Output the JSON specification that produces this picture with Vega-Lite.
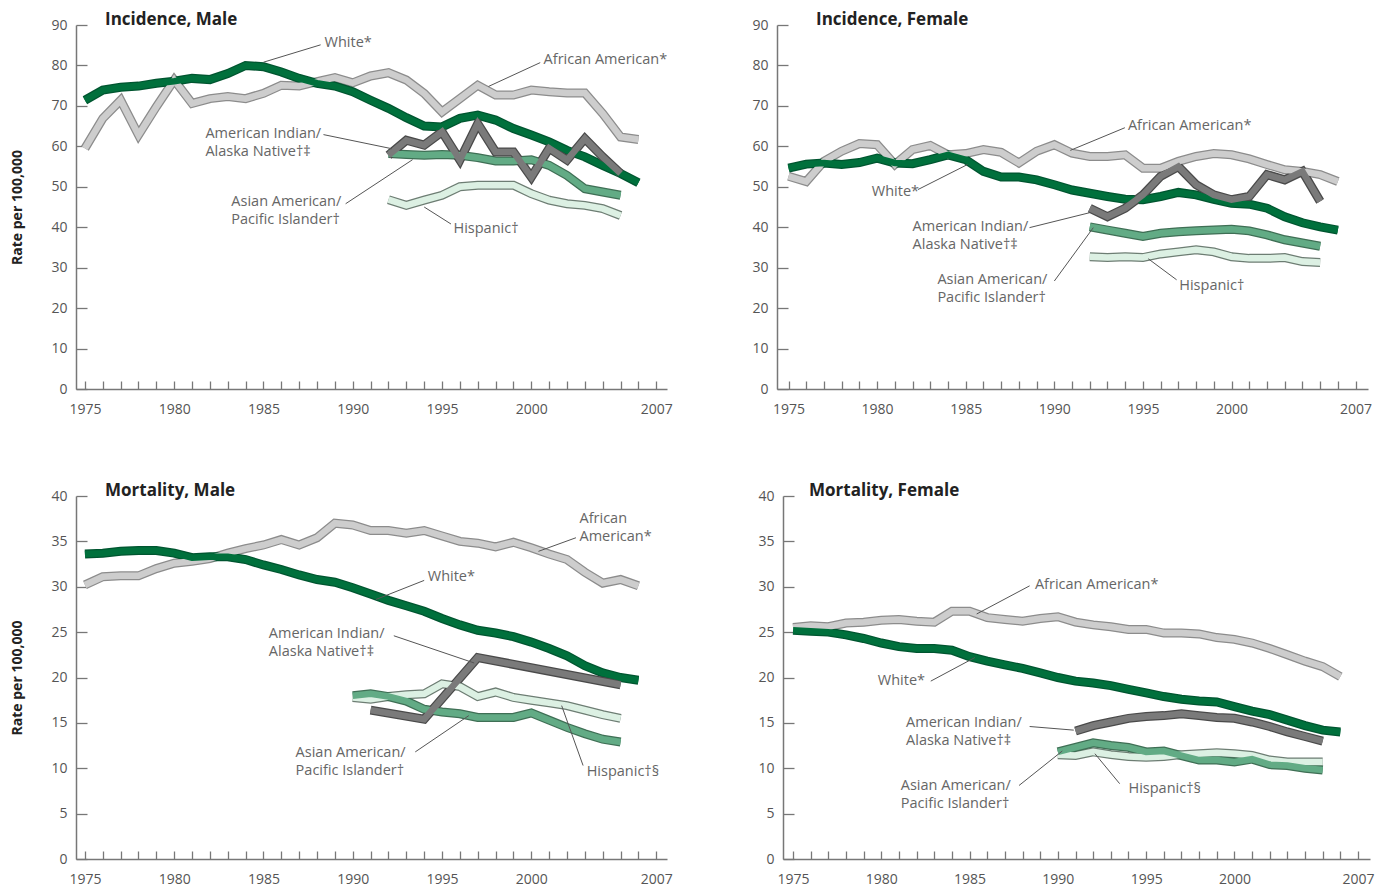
{
  "$schema": "https://vega.github.io/schema/vega-lite/v6.json",
  "padding": {"left": 10, "top": 11, "right": 5, "bottom": 5},
  "background": "white",
  "datasets": {
    "incM": [
      {"race":"Black","year":1975,"rate":59.5},{"race":"Black","year":1976,"rate":66.9},{"race":"Black","year":1977,"rate":71.4},{"race":"Black","year":1978,"rate":62.8},{"race":"Black","year":1979,"rate":69.8},{"race":"Black","year":1980,"rate":76.4},{"race":"Black","year":1981,"rate":70.6},{"race":"Black","year":1982,"rate":71.8},{"race":"Black","year":1983,"rate":72.3},{"race":"Black","year":1984,"rate":71.8},{"race":"Black","year":1985,"rate":73.1},{"race":"Black","year":1986,"rate":75.1},{"race":"Black","year":1987,"rate":74.9},{"race":"Black","year":1988,"rate":76.0},{"race":"Black","year":1989,"rate":77.0},{"race":"Black","year":1990,"rate":75.7},{"race":"Black","year":1991,"rate":77.4},{"race":"Black","year":1992,"rate":78.2},{"race":"Black","year":1993,"rate":76.4},{"race":"Black","year":1994,"rate":73.1},{"race":"Black","year":1995,"rate":68.5},{"race":"Black","year":1996,"rate":71.8},{"race":"Black","year":1997,"rate":75.1},{"race":"Black","year":1998,"rate":72.7},{"race":"Black","year":1999,"rate":72.7},{"race":"Black","year":2000,"rate":73.9},{"race":"Black","year":2001,"rate":73.5},{"race":"Black","year":2002,"rate":73.2},{"race":"Black","year":2003,"rate":73.2},{"race":"Black","year":2004,"rate":68.1},{"race":"Black","year":2005,"rate":62.3},{"race":"Black","year":2006,"rate":61.7},
      {"race":"Hispanic","year":1992,"rate":46.8},{"race":"Hispanic","year":1993,"rate":45.4},{"race":"Hispanic","year":1994,"rate":46.7},{"race":"Hispanic","year":1995,"rate":47.9},{"race":"Hispanic","year":1996,"rate":50.0},{"race":"Hispanic","year":1997,"rate":50.4},{"race":"Hispanic","year":1998,"rate":50.4},{"race":"Hispanic","year":1999,"rate":50.4},{"race":"Hispanic","year":2000,"rate":48.3},{"race":"Hispanic","year":2001,"rate":46.7},{"race":"Hispanic","year":2002,"rate":45.8},{"race":"Hispanic","year":2003,"rate":45.4},{"race":"Hispanic","year":2004,"rate":44.6},{"race":"Hispanic","year":2005,"rate":42.9},
      {"race":"API","year":1992,"rate":58.2},{"race":"API","year":1993,"rate":58.0},{"race":"API","year":1994,"rate":57.8},{"race":"API","year":1995,"rate":58.0},{"race":"API","year":1996,"rate":57.8},{"race":"API","year":1997,"rate":57.2},{"race":"API","year":1998,"rate":56.4},{"race":"API","year":1999,"rate":56.4},{"race":"API","year":2000,"rate":56.7},{"race":"API","year":2001,"rate":55.3},{"race":"API","year":2002,"rate":52.8},{"race":"API","year":2003,"rate":49.5},{"race":"API","year":2004,"rate":48.7},{"race":"API","year":2005,"rate":47.9},
      {"race":"White","year":1975,"rate":71.4},{"race":"White","year":1976,"rate":73.9},{"race":"White","year":1977,"rate":74.6},{"race":"White","year":1978,"rate":74.9},{"race":"White","year":1979,"rate":75.6},{"race":"White","year":1980,"rate":76.1},{"race":"White","year":1981,"rate":76.8},{"race":"White","year":1982,"rate":76.5},{"race":"White","year":1983,"rate":78.0},{"race":"White","year":1984,"rate":80.0},{"race":"White","year":1985,"rate":79.7},{"race":"White","year":1986,"rate":78.4},{"race":"White","year":1987,"rate":76.8},{"race":"White","year":1988,"rate":75.6},{"race":"White","year":1989,"rate":74.9},{"race":"White","year":1990,"rate":73.5},{"race":"White","year":1991,"rate":71.4},{"race":"White","year":1992,"rate":69.4},{"race":"White","year":1993,"rate":67.1},{"race":"White","year":1994,"rate":65.0},{"race":"White","year":1995,"rate":64.8},{"race":"White","year":1996,"rate":66.9},{"race":"White","year":1997,"rate":67.7},{"race":"White","year":1998,"rate":66.5},{"race":"White","year":1999,"rate":64.4},{"race":"White","year":2000,"rate":62.8},{"race":"White","year":2001,"rate":61.1},{"race":"White","year":2002,"rate":59.0},{"race":"White","year":2003,"rate":57.4},{"race":"White","year":2004,"rate":55.3},{"race":"White","year":2005,"rate":53.3},{"race":"White","year":2006,"rate":51.0},
      {"race":"AIAN","year":1992,"rate":57.8},{"race":"AIAN","year":1993,"rate":61.5},{"race":"AIAN","year":1994,"rate":60.3},{"race":"AIAN","year":1995,"rate":63.6},{"race":"AIAN","year":1996,"rate":56.6},{"race":"AIAN","year":1997,"rate":65.6},{"race":"AIAN","year":1998,"rate":58.6},{"race":"AIAN","year":1999,"rate":58.6},{"race":"AIAN","year":2000,"rate":52.4},{"race":"AIAN","year":2001,"rate":59.5},{"race":"AIAN","year":2002,"rate":56.6},{"race":"AIAN","year":2003,"rate":61.9},{"race":"AIAN","year":2004,"rate":57.4},{"race":"AIAN","year":2005,"rate":53.3}
    ],
    "incF": [
      {"race":"Black","year":1975,"rate":52.6},{"race":"Black","year":1976,"rate":51.3},{"race":"Black","year":1977,"rate":56.3},{"race":"Black","year":1978,"rate":58.8},{"race":"Black","year":1979,"rate":60.7},{"race":"Black","year":1980,"rate":60.4},{"race":"Black","year":1981,"rate":55.5},{"race":"Black","year":1982,"rate":59.2},{"race":"Black","year":1983,"rate":60.2},{"race":"Black","year":1984,"rate":57.9},{"race":"Black","year":1985,"rate":58.2},{"race":"Black","year":1986,"rate":59.2},{"race":"Black","year":1987,"rate":58.5},{"race":"Black","year":1988,"rate":55.9},{"race":"Black","year":1989,"rate":58.8},{"race":"Black","year":1990,"rate":60.4},{"race":"Black","year":1991,"rate":58.3},{"race":"Black","year":1992,"rate":57.5},{"race":"Black","year":1993,"rate":57.5},{"race":"Black","year":1994,"rate":57.9},{"race":"Black","year":1995,"rate":54.6},{"race":"Black","year":1996,"rate":54.6},{"race":"Black","year":1997,"rate":56.3},{"race":"Black","year":1998,"rate":57.5},{"race":"Black","year":1999,"rate":58.2},{"race":"Black","year":2000,"rate":57.9},{"race":"Black","year":2001,"rate":56.9},{"race":"Black","year":2002,"rate":55.5},{"race":"Black","year":2003,"rate":54.2},{"race":"Black","year":2004,"rate":53.8},{"race":"Black","year":2005,"rate":53.0},{"race":"Black","year":2006,"rate":51.3},
      {"race":"Hispanic","year":1992,"rate":32.7},{"race":"Hispanic","year":1993,"rate":32.5},{"race":"Hispanic","year":1994,"rate":32.7},{"race":"Hispanic","year":1995,"rate":32.5},{"race":"Hispanic","year":1996,"rate":33.4},{"race":"Hispanic","year":1997,"rate":33.9},{"race":"Hispanic","year":1998,"rate":34.4},{"race":"Hispanic","year":1999,"rate":33.9},{"race":"Hispanic","year":2000,"rate":32.7},{"race":"Hispanic","year":2001,"rate":32.3},{"race":"Hispanic","year":2002,"rate":32.3},{"race":"Hispanic","year":2003,"rate":32.5},{"race":"Hispanic","year":2004,"rate":31.5},{"race":"Hispanic","year":2005,"rate":31.3},
      {"race":"API","year":1992,"rate":40.1},{"race":"API","year":1993,"rate":39.3},{"race":"API","year":1994,"rate":38.5},{"race":"API","year":1995,"rate":37.7},{"race":"API","year":1996,"rate":38.5},{"race":"API","year":1997,"rate":38.9},{"race":"API","year":1998,"rate":39.1},{"race":"API","year":1999,"rate":39.3},{"race":"API","year":2000,"rate":39.5},{"race":"API","year":2001,"rate":39.1},{"race":"API","year":2002,"rate":38.1},{"race":"API","year":2003,"rate":36.9},{"race":"API","year":2004,"rate":36.1},{"race":"API","year":2005,"rate":35.3},
      {"race":"White","year":1975,"rate":54.6},{"race":"White","year":1976,"rate":55.6},{"race":"White","year":1977,"rate":55.9},{"race":"White","year":1978,"rate":55.5},{"race":"White","year":1979,"rate":56.0},{"race":"White","year":1980,"rate":57.1},{"race":"White","year":1981,"rate":55.9},{"race":"White","year":1982,"rate":55.7},{"race":"White","year":1983,"rate":56.7},{"race":"White","year":1984,"rate":57.9},{"race":"White","year":1985,"rate":56.7},{"race":"White","year":1986,"rate":53.8},{"race":"White","year":1987,"rate":52.4},{"race":"White","year":1988,"rate":52.4},{"race":"White","year":1989,"rate":51.7},{"race":"White","year":1990,"rate":50.5},{"race":"White","year":1991,"rate":49.2},{"race":"White","year":1992,"rate":48.4},{"race":"White","year":1993,"rate":47.6},{"race":"White","year":1994,"rate":46.9},{"race":"White","year":1995,"rate":46.8},{"race":"White","year":1996,"rate":47.6},{"race":"White","year":1997,"rate":48.6},{"race":"White","year":1998,"rate":48.0},{"race":"White","year":1999,"rate":46.9},{"race":"White","year":2000,"rate":45.9},{"race":"White","year":2001,"rate":45.7},{"race":"White","year":2002,"rate":44.7},{"race":"White","year":2003,"rate":42.6},{"race":"White","year":2004,"rate":41.1},{"race":"White","year":2005,"rate":40.1},{"race":"White","year":2006,"rate":39.3},
      {"race":"AIAN","year":1992,"rate":44.7},{"race":"AIAN","year":1993,"rate":42.6},{"race":"AIAN","year":1994,"rate":44.7},{"race":"AIAN","year":1995,"rate":48.0},{"race":"AIAN","year":1996,"rate":52.6},{"race":"AIAN","year":1997,"rate":55.0},{"race":"AIAN","year":1998,"rate":50.5},{"race":"AIAN","year":1999,"rate":48.0},{"race":"AIAN","year":2000,"rate":46.8},{"race":"AIAN","year":2001,"rate":47.6},{"race":"AIAN","year":2002,"rate":53.0},{"race":"AIAN","year":2003,"rate":51.7},{"race":"AIAN","year":2004,"rate":53.8},{"race":"AIAN","year":2005,"rate":46.4}
    ],
    "morM": [
      {"race":"Black","year":1975,"rate":30.2},{"race":"Black","year":1976,"rate":31.1},{"race":"Black","year":1977,"rate":31.2},{"race":"Black","year":1978,"rate":31.2},{"race":"Black","year":1979,"rate":32.0},{"race":"Black","year":1980,"rate":32.6},{"race":"Black","year":1981,"rate":32.8},{"race":"Black","year":1982,"rate":33.1},{"race":"Black","year":1983,"rate":33.7},{"race":"Black","year":1984,"rate":34.2},{"race":"Black","year":1985,"rate":34.6},{"race":"Black","year":1986,"rate":35.2},{"race":"Black","year":1987,"rate":34.6},{"race":"Black","year":1988,"rate":35.4},{"race":"Black","year":1989,"rate":37.0},{"race":"Black","year":1990,"rate":36.8},{"race":"Black","year":1991,"rate":36.2},{"race":"Black","year":1992,"rate":36.2},{"race":"Black","year":1993,"rate":35.9},{"race":"Black","year":1994,"rate":36.2},{"race":"Black","year":1995,"rate":35.6},{"race":"Black","year":1996,"rate":35.0},{"race":"Black","year":1997,"rate":34.8},{"race":"Black","year":1998,"rate":34.4},{"race":"Black","year":1999,"rate":34.9},{"race":"Black","year":2000,"rate":34.3},{"race":"Black","year":2001,"rate":33.6},{"race":"Black","year":2002,"rate":33.0},{"race":"Black","year":2003,"rate":31.6},{"race":"Black","year":2004,"rate":30.4},{"race":"Black","year":2005,"rate":30.8},{"race":"Black","year":2006,"rate":30.1},
      {"race":"Hispanic","year":1990,"rate":17.8},{"race":"Hispanic","year":1991,"rate":17.6},{"race":"Hispanic","year":1992,"rate":17.9},{"race":"Hispanic","year":1993,"rate":18.1},{"race":"Hispanic","year":1994,"rate":18.2},{"race":"Hispanic","year":1995,"rate":19.3},{"race":"Hispanic","year":1996,"rate":19.0},{"race":"Hispanic","year":1997,"rate":17.9},{"race":"Hispanic","year":1998,"rate":18.4},{"race":"Hispanic","year":1999,"rate":17.8},{"race":"Hispanic","year":2000,"rate":17.5},{"race":"Hispanic","year":2001,"rate":17.2},{"race":"Hispanic","year":2002,"rate":16.9},{"race":"Hispanic","year":2003,"rate":16.4},{"race":"Hispanic","year":2004,"rate":15.9},{"race":"Hispanic","year":2005,"rate":15.5},
      {"race":"API","year":1990,"rate":18.0},{"race":"API","year":1991,"rate":18.2},{"race":"API","year":1992,"rate":17.9},{"race":"API","year":1993,"rate":17.4},{"race":"API","year":1994,"rate":16.5},{"race":"API","year":1995,"rate":16.2},{"race":"API","year":1996,"rate":16.0},{"race":"API","year":1997,"rate":15.6},{"race":"API","year":1998,"rate":15.6},{"race":"API","year":1999,"rate":15.6},{"race":"API","year":2000,"rate":16.1},{"race":"API","year":2001,"rate":15.3},{"race":"API","year":2002,"rate":14.5},{"race":"API","year":2003,"rate":13.8},{"race":"API","year":2004,"rate":13.2},{"race":"API","year":2005,"rate":12.9},
      {"race":"White","year":1975,"rate":33.6},{"race":"White","year":1976,"rate":33.7},{"race":"White","year":1977,"rate":33.9},{"race":"White","year":1978,"rate":34.0},{"race":"White","year":1979,"rate":34.0},{"race":"White","year":1980,"rate":33.7},{"race":"White","year":1981,"rate":33.2},{"race":"White","year":1982,"rate":33.3},{"race":"White","year":1983,"rate":33.3},{"race":"White","year":1984,"rate":33.0},{"race":"White","year":1985,"rate":32.4},{"race":"White","year":1986,"rate":31.9},{"race":"White","year":1987,"rate":31.3},{"race":"White","year":1988,"rate":30.8},{"race":"White","year":1989,"rate":30.5},{"race":"White","year":1990,"rate":29.9},{"race":"White","year":1991,"rate":29.2},{"race":"White","year":1992,"rate":28.5},{"race":"White","year":1993,"rate":27.9},{"race":"White","year":1994,"rate":27.3},{"race":"White","year":1995,"rate":26.5},{"race":"White","year":1996,"rate":25.8},{"race":"White","year":1997,"rate":25.2},{"race":"White","year":1998,"rate":24.9},{"race":"White","year":1999,"rate":24.5},{"race":"White","year":2000,"rate":23.9},{"race":"White","year":2001,"rate":23.2},{"race":"White","year":2002,"rate":22.4},{"race":"White","year":2003,"rate":21.3},{"race":"White","year":2004,"rate":20.5},{"race":"White","year":2005,"rate":20.0},{"race":"White","year":2006,"rate":19.7},
      {"race":"AIAN","year":1991,"rate":16.4},{"race":"AIAN","year":1994,"rate":15.4},{"race":"AIAN","year":1997,"rate":22.2},{"race":"AIAN","year":2005,"rate":19.2}
    ],
    "morF": [
      {"race":"Black","year":1975,"rate":25.5},{"race":"Black","year":1976,"rate":25.7},{"race":"Black","year":1977,"rate":25.6},{"race":"Black","year":1978,"rate":26.0},{"race":"Black","year":1979,"rate":26.1},{"race":"Black","year":1980,"rate":26.3},{"race":"Black","year":1981,"rate":26.4},{"race":"Black","year":1982,"rate":26.2},{"race":"Black","year":1983,"rate":26.1},{"race":"Black","year":1984,"rate":27.3},{"race":"Black","year":1985,"rate":27.3},{"race":"Black","year":1986,"rate":26.6},{"race":"Black","year":1987,"rate":26.4},{"race":"Black","year":1988,"rate":26.2},{"race":"Black","year":1989,"rate":26.5},{"race":"Black","year":1990,"rate":26.7},{"race":"Black","year":1991,"rate":26.1},{"race":"Black","year":1992,"rate":25.8},{"race":"Black","year":1993,"rate":25.6},{"race":"Black","year":1994,"rate":25.3},{"race":"Black","year":1995,"rate":25.3},{"race":"Black","year":1996,"rate":24.9},{"race":"Black","year":1997,"rate":24.9},{"race":"Black","year":1998,"rate":24.8},{"race":"Black","year":1999,"rate":24.4},{"race":"Black","year":2000,"rate":24.2},{"race":"Black","year":2001,"rate":23.8},{"race":"Black","year":2002,"rate":23.2},{"race":"Black","year":2003,"rate":22.5},{"race":"Black","year":2004,"rate":21.8},{"race":"Black","year":2005,"rate":21.2},{"race":"Black","year":2006,"rate":20.1},
      {"race":"Hispanic","year":1990,"rate":11.5},{"race":"Hispanic","year":1991,"rate":11.4},{"race":"Hispanic","year":1992,"rate":11.8},{"race":"Hispanic","year":1993,"rate":11.5},{"race":"Hispanic","year":1994,"rate":11.3},{"race":"Hispanic","year":1995,"rate":11.2},{"race":"Hispanic","year":1996,"rate":11.3},{"race":"Hispanic","year":1997,"rate":11.5},{"race":"Hispanic","year":1998,"rate":11.6},{"race":"Hispanic","year":1999,"rate":11.7},{"race":"Hispanic","year":2000,"rate":11.6},{"race":"Hispanic","year":2001,"rate":11.4},{"race":"Hispanic","year":2002,"rate":10.9},{"race":"Hispanic","year":2003,"rate":10.7},{"race":"Hispanic","year":2004,"rate":10.7},{"race":"Hispanic","year":2005,"rate":10.7},
      {"race":"API","year":1990,"rate":11.8},{"race":"API","year":1991,"rate":12.3},{"race":"API","year":1992,"rate":12.8},{"race":"API","year":1993,"rate":12.5},{"race":"API","year":1994,"rate":12.3},{"race":"API","year":1995,"rate":11.8},{"race":"API","year":1996,"rate":11.9},{"race":"API","year":1997,"rate":11.4},{"race":"API","year":1998,"rate":10.9},{"race":"API","year":1999,"rate":10.9},{"race":"API","year":2000,"rate":10.7},{"race":"API","year":2001,"rate":11.0},{"race":"API","year":2002,"rate":10.4},{"race":"API","year":2003,"rate":10.3},{"race":"API","year":2004,"rate":10.0},{"race":"API","year":2005,"rate":9.8},
      {"race":"White","year":1975,"rate":25.2},{"race":"White","year":1976,"rate":25.1},{"race":"White","year":1977,"rate":25.0},{"race":"White","year":1978,"rate":24.7},{"race":"White","year":1979,"rate":24.3},{"race":"White","year":1980,"rate":23.8},{"race":"White","year":1981,"rate":23.4},{"race":"White","year":1982,"rate":23.2},{"race":"White","year":1983,"rate":23.2},{"race":"White","year":1984,"rate":23.0},{"race":"White","year":1985,"rate":22.3},{"race":"White","year":1986,"rate":21.8},{"race":"White","year":1987,"rate":21.4},{"race":"White","year":1988,"rate":21.0},{"race":"White","year":1989,"rate":20.5},{"race":"White","year":1990,"rate":20.0},{"race":"White","year":1991,"rate":19.6},{"race":"White","year":1992,"rate":19.4},{"race":"White","year":1993,"rate":19.1},{"race":"White","year":1994,"rate":18.7},{"race":"White","year":1995,"rate":18.3},{"race":"White","year":1996,"rate":17.9},{"race":"White","year":1997,"rate":17.6},{"race":"White","year":1998,"rate":17.4},{"race":"White","year":1999,"rate":17.3},{"race":"White","year":2000,"rate":16.8},{"race":"White","year":2001,"rate":16.3},{"race":"White","year":2002,"rate":15.9},{"race":"White","year":2003,"rate":15.3},{"race":"White","year":2004,"rate":14.7},{"race":"White","year":2005,"rate":14.2},{"race":"White","year":2006,"rate":14.0},
      {"race":"AIAN","year":1991,"rate":14.1},{"race":"AIAN","year":1992,"rate":14.7},{"race":"AIAN","year":1993,"rate":15.1},{"race":"AIAN","year":1994,"rate":15.5},{"race":"AIAN","year":1995,"rate":15.7},{"race":"AIAN","year":1996,"rate":15.8},{"race":"AIAN","year":1997,"rate":16.0},{"race":"AIAN","year":1998,"rate":15.8},{"race":"AIAN","year":1999,"rate":15.6},{"race":"AIAN","year":2000,"rate":15.5},{"race":"AIAN","year":2001,"rate":15.1},{"race":"AIAN","year":2002,"rate":14.6},{"race":"AIAN","year":2003,"rate":14.0},{"race":"AIAN","year":2004,"rate":13.5},{"race":"AIAN","year":2005,"rate":13.0}
    ],
    "notes": [
      {"panel":"incM","text":"White*","year":1988.42,"rate":84.65},
      {"panel":"incM","text":"African American*","year":2000.69,"rate":80.4},
      {"panel":"incM","text":"American Indian/\nAlaska Native†‡","year":1981.75,"rate":62.1},
      {"panel":"incM","text":"Asian American/\nPacific Islander†","year":1983.2,"rate":45.3},
      {"panel":"incM","text":"Hispanic†","year":1995.64,"rate":38.6},
      {"panel":"incF","text":"African American*","year":1994.15,"rate":64.1},
      {"panel":"incF","text":"White*","year":1979.7,"rate":47.8},
      {"panel":"incF","text":"American Indian/\nAlaska Native†‡","year":1982.0,"rate":39.1},
      {"panel":"incF","text":"Asian American/\nPacific Islander†","year":1983.4,"rate":26.0},
      {"panel":"incF","text":"Hispanic†","year":1997.05,"rate":24.5},
      {"panel":"morM","text":"African\nAmerican*","year":2002.7,"rate":37.0},
      {"panel":"morM","text":"White*","year":1994.2,"rate":30.6},
      {"panel":"morM","text":"American Indian/\nAlaska Native†‡","year":1985.3,"rate":24.3},
      {"panel":"morM","text":"Asian American/\nPacific Islander†","year":1986.8,"rate":11.2},
      {"panel":"morM","text":"Hispanic†§","year":2003.1,"rate":9.2},
      {"panel":"morF","text":"African American*","year":1988.7,"rate":29.7},
      {"panel":"morF","text":"White*","year":1979.8,"rate":19.2},
      {"panel":"morF","text":"American Indian/\nAlaska Native†‡","year":1981.4,"rate":14.6},
      {"panel":"morF","text":"Asian American/\nPacific Islander†","year":1981.1,"rate":7.6},
      {"panel":"morF","text":"Hispanic†§","year":1994.0,"rate":7.3}
    ],
    "leaders": [
      {"panel":"incM","year":1988.2,"rate":85.1,"year2":1985.0,"rate2":80.8},
      {"panel":"incM","year":2000.5,"rate":80.7,"year2":1997.6,"rate2":74.8},
      {"panel":"incM","year":1988.36,"rate":62.9,"year2":1992.2,"rate2":59.4},
      {"panel":"incM","year":1989.6,"rate":45.8,"year2":1993.35,"rate2":56.7},
      {"panel":"incM","year":1995.5,"rate":40.8,"year2":1994.0,"rate2":45.0},
      {"panel":"incF","year":1993.98,"rate":64.6,"year2":1990.9,"rate2":59.0},
      {"panel":"incF","year":1982.3,"rate":49.3,"year2":1985.1,"rate2":55.5},
      {"panel":"incF","year":1988.6,"rate":39.9,"year2":1992.0,"rate2":43.6},
      {"panel":"incF","year":1990.0,"rate":26.7,"year2":1992.2,"rate2":39.9},
      {"panel":"incF","year":1996.9,"rate":27.0,"year2":1995.3,"rate2":32.2},
      {"panel":"morM","year":2002.5,"rate":35.4,"year2":2000.4,"rate2":33.9},
      {"panel":"morM","year":1994.0,"rate":30.7,"year2":1991.3,"rate2":28.6},
      {"panel":"morM","year":1992.3,"rate":24.6,"year2":1996.8,"rate2":21.6},
      {"panel":"morM","year":1993.5,"rate":11.8,"year2":1996.5,"rate2":15.8},
      {"panel":"morM","year":2002.9,"rate":10.3,"year2":2001.7,"rate2":16.9},
      {"panel":"morF","year":1988.4,"rate":30.1,"year2":1985.4,"rate2":27.0},
      {"panel":"morF","year":1982.8,"rate":19.6,"year2":1985.3,"rate2":22.2},
      {"panel":"morF","year":1988.4,"rate":14.6,"year2":1990.9,"rate2":14.2},
      {"panel":"morF","year":1987.8,"rate":8.1,"year2":1990.25,"rate2":11.9},
      {"panel":"morF","year":1993.5,"rate":8.3,"year2":1992.1,"rate2":11.6}
    ]
  },
  "vconcat": [
    {"hconcat": [
      {
        "width": 591, "height": 364,
        "title": {"text": "Incidence, Male", "dx": 29},
        "layer": [
          {"data": {"name": "incM"}, "mark": {"type": "line", "strokeWidth": 9}, "encoding": {
            "x": {"field": "year", "type": "quantitative", "scale": {"domain": [1974.5, 2007.6], "nice": false, "zero": false}, "axis": {"values": [1975,1976,1977,1978,1979,1980,1981,1982,1983,1984,1985,1986,1987,1988,1989,1990,1991,1992,1993,1994,1995,1996,1997,1998,1999,2000,2001,2002,2003,2004,2005,2006,2007], "tickCount": 100, "title": null, "format": "d", "labelOverlap": false, "labelExpr": "(datum.value % 5 == 0 && datum.value <= 2000) || datum.value == 2007 ? datum.label : ''"}},
            "y": {"field": "rate", "type": "quantitative", "scale": {"domain": [0, 90], "nice": false}, "axis": {"values": [0,10,20,30,40,50,60,70,80,90], "labelOverlap": false, "title": "Rate per 100,000"}},
            "stroke": {"field": "race", "type": "nominal", "scale": {"domain": ["Black","Hispanic","API","White","AIAN"], "range": ["#8c8c8c","#6d7d73","#3f6f55","#005530","#4a4a4a"]}, "legend": null}
          }},
          {"data": {"name": "incM"}, "mark": {"type": "line", "strokeWidth": 6.5}, "encoding": {
            "x": {"field": "year", "type": "quantitative"},
            "y": {"field": "rate", "type": "quantitative"},
            "color": {"field": "race", "type": "nominal", "scale": {"domain": ["Black","Hispanic","API","White","AIAN"], "range": ["#cdcdcd","#dcf0e3","#62ab85","#00703c","#7a7a7a"]}, "legend": null}
          }},
          {"data": {"name": "leaders"}, "transform": [{"filter": "datum.panel == 'incM'"}], "mark": {"type": "rule", "color": "#555", "strokeWidth": 1}, "encoding": {
            "x": {"field": "year", "type": "quantitative"}, "y": {"field": "rate", "type": "quantitative"},
            "x2": {"field": "year2"}, "y2": {"field": "rate2"}
          }},
          {"data": {"name": "notes"}, "transform": [{"filter": "datum.panel == 'incM'"}], "mark": {"type": "text", "align": "left", "baseline": "alphabetic", "lineBreak": "\n", "lineHeight": 18, "fontSize": 14.5, "color": "#666", "font": "Open Sans"}, "encoding": {
            "x": {"field": "year", "type": "quantitative"}, "y": {"field": "rate", "type": "quantitative"}, "text": {"field": "text"}
          }}
        ]
      },
      {
        "width": 591, "height": 364,
        "title": {"text": "Incidence, Female", "dx": 39},
        "layer": [
          {"data": {"name": "incF"}, "mark": {"type": "line", "strokeWidth": 9}, "encoding": {
            "x": {"field": "year", "type": "quantitative", "scale": {"domain": [1974.35, 2007.7], "nice": false, "zero": false}, "axis": {"values": [1975,1976,1977,1978,1979,1980,1981,1982,1983,1984,1985,1986,1987,1988,1989,1990,1991,1992,1993,1994,1995,1996,1997,1998,1999,2000,2001,2002,2003,2004,2005,2006,2007], "tickCount": 100, "title": null, "format": "d", "labelOverlap": false, "labelExpr": "(datum.value % 5 == 0 && datum.value <= 2000) || datum.value == 2007 ? datum.label : ''"}},
            "y": {"field": "rate", "type": "quantitative", "scale": {"domain": [0, 90], "nice": false}, "axis": {"values": [0,10,20,30,40,50,60,70,80,90], "labelOverlap": false, "title": null}},
            "stroke": {"field": "race", "type": "nominal", "scale": {"domain": ["Black","Hispanic","API","White","AIAN"], "range": ["#8c8c8c","#6d7d73","#3f6f55","#005530","#4a4a4a"]}, "legend": null}
          }},
          {"data": {"name": "incF"}, "mark": {"type": "line", "strokeWidth": 6.5}, "encoding": {
            "x": {"field": "year", "type": "quantitative"},
            "y": {"field": "rate", "type": "quantitative"},
            "color": {"field": "race", "type": "nominal", "scale": {"domain": ["Black","Hispanic","API","White","AIAN"], "range": ["#cdcdcd","#dcf0e3","#62ab85","#00703c","#7a7a7a"]}, "legend": null}
          }},
          {"data": {"name": "leaders"}, "transform": [{"filter": "datum.panel == 'incF'"}], "mark": {"type": "rule", "color": "#555", "strokeWidth": 1}, "encoding": {
            "x": {"field": "year", "type": "quantitative"}, "y": {"field": "rate", "type": "quantitative"},
            "x2": {"field": "year2"}, "y2": {"field": "rate2"}
          }},
          {"data": {"name": "notes"}, "transform": [{"filter": "datum.panel == 'incF'"}], "mark": {"type": "text", "align": "left", "baseline": "alphabetic", "lineBreak": "\n", "lineHeight": 18, "fontSize": 14.5, "color": "#666", "font": "Open Sans"}, "encoding": {
            "x": {"field": "year", "type": "quantitative"}, "y": {"field": "rate", "type": "quantitative"}, "text": {"field": "text"}
          }}
        ]
      }
    ], "spacing": 78},
    {"hconcat": [
      {
        "width": 591, "height": 363,
        "title": {"text": "Mortality, Male", "dx": 29},
        "layer": [
          {"data": {"name": "morM"}, "mark": {"type": "line", "strokeWidth": 9}, "encoding": {
            "x": {"field": "year", "type": "quantitative", "scale": {"domain": [1974.5, 2007.6], "nice": false, "zero": false}, "axis": {"values": [1975,1976,1977,1978,1979,1980,1981,1982,1983,1984,1985,1986,1987,1988,1989,1990,1991,1992,1993,1994,1995,1996,1997,1998,1999,2000,2001,2002,2003,2004,2005,2006,2007], "tickCount": 100, "title": null, "format": "d", "labelOverlap": false, "labelExpr": "(datum.value % 5 == 0 && datum.value <= 2000) || datum.value == 2007 ? datum.label : ''"}},
            "y": {"field": "rate", "type": "quantitative", "scale": {"domain": [0, 40], "nice": false}, "axis": {"values": [0,5,10,15,20,25,30,35,40], "labelOverlap": false, "title": "Rate per 100,000"}},
            "stroke": {"field": "race", "type": "nominal", "scale": {"domain": ["Black","Hispanic","API","White","AIAN"], "range": ["#8c8c8c","#6d7d73","#3f6f55","#005530","#4a4a4a"]}, "legend": null}
          }},
          {"data": {"name": "morM"}, "mark": {"type": "line", "strokeWidth": 6.5}, "encoding": {
            "x": {"field": "year", "type": "quantitative"},
            "y": {"field": "rate", "type": "quantitative"},
            "color": {"field": "race", "type": "nominal", "scale": {"domain": ["Black","Hispanic","API","White","AIAN"], "range": ["#cdcdcd","#dcf0e3","#62ab85","#00703c","#7a7a7a"]}, "legend": null}
          }},
          {"data": {"name": "leaders"}, "transform": [{"filter": "datum.panel == 'morM'"}], "mark": {"type": "rule", "color": "#555", "strokeWidth": 1}, "encoding": {
            "x": {"field": "year", "type": "quantitative"}, "y": {"field": "rate", "type": "quantitative"},
            "x2": {"field": "year2"}, "y2": {"field": "rate2"}
          }},
          {"data": {"name": "notes"}, "transform": [{"filter": "datum.panel == 'morM'"}], "mark": {"type": "text", "align": "left", "baseline": "alphabetic", "lineBreak": "\n", "lineHeight": 18, "fontSize": 14.5, "color": "#666", "font": "Open Sans"}, "encoding": {
            "x": {"field": "year", "type": "quantitative"}, "y": {"field": "rate", "type": "quantitative"}, "text": {"field": "text"}
          }}
        ]
      },
      {
        "width": 587, "height": 363,
        "title": {"text": "Mortality, Female", "dx": 26},
        "layer": [
          {"data": {"name": "morF"}, "mark": {"type": "line", "strokeWidth": 9}, "encoding": {
            "x": {"field": "year", "type": "quantitative", "scale": {"domain": [1974.43, 2007.68], "nice": false, "zero": false}, "axis": {"values": [1975,1976,1977,1978,1979,1980,1981,1982,1983,1984,1985,1986,1987,1988,1989,1990,1991,1992,1993,1994,1995,1996,1997,1998,1999,2000,2001,2002,2003,2004,2005,2006,2007], "tickCount": 100, "title": null, "format": "d", "labelOverlap": false, "labelExpr": "(datum.value % 5 == 0 && datum.value <= 2000) || datum.value == 2007 ? datum.label : ''"}},
            "y": {"field": "rate", "type": "quantitative", "scale": {"domain": [0, 40], "nice": false}, "axis": {"values": [0,5,10,15,20,25,30,35,40], "labelOverlap": false, "title": null}},
            "stroke": {"field": "race", "type": "nominal", "scale": {"domain": ["Black","Hispanic","API","White","AIAN"], "range": ["#8c8c8c","#6d7d73","#3f6f55","#005530","#4a4a4a"]}, "legend": null}
          }},
          {"data": {"name": "morF"}, "mark": {"type": "line", "strokeWidth": 6.5}, "encoding": {
            "x": {"field": "year", "type": "quantitative"},
            "y": {"field": "rate", "type": "quantitative"},
            "color": {"field": "race", "type": "nominal", "scale": {"domain": ["Black","Hispanic","API","White","AIAN"], "range": ["#cdcdcd","#dcf0e3","#62ab85","#00703c","#7a7a7a"]}, "legend": null}
          }},
          {"data": {"name": "leaders"}, "transform": [{"filter": "datum.panel == 'morF'"}], "mark": {"type": "rule", "color": "#555", "strokeWidth": 1}, "encoding": {
            "x": {"field": "year", "type": "quantitative"}, "y": {"field": "rate", "type": "quantitative"},
            "x2": {"field": "year2"}, "y2": {"field": "rate2"}
          }},
          {"data": {"name": "notes"}, "transform": [{"filter": "datum.panel == 'morF'"}], "mark": {"type": "text", "align": "left", "baseline": "alphabetic", "lineBreak": "\n", "lineHeight": 18, "fontSize": 14.5, "color": "#666", "font": "Open Sans"}, "encoding": {
            "x": {"field": "year", "type": "quantitative"}, "y": {"field": "rate", "type": "quantitative"}, "text": {"field": "text"}
          }}
        ]
      }
    ], "spacing": 84}
  ],
  "spacing": 66,
  "config": {
    "view": {"stroke": null},
    "font": "Open Sans",
    "axis": {"grid": false, "domainColor": "#777", "domainWidth": 1.5, "tickColor": "#777", "tickWidth": 1.3, "labelColor": "#555", "labelFontSize": 14, "labelFont": "Open Sans", "titleFont": "Open Sans", "titleFontSize": 14, "titleFontWeight": "bold", "titleColor": "#222", "labelFlush": false, "labelOverlap": false, "labelBound": false},
    "axisX": {"tickSize": -8, "labelPadding": 21},
    "axisY": {"tickSize": -11, "labelPadding": 20, "titlePadding": 26},
    "title": {"anchor": "start", "frame": "group", "fontSize": 17, "fontWeight": "bold", "color": "#222", "font": "Open Sans", "offset": 0, "baseline": "alphabetic", "dy": 15}
  }
}
